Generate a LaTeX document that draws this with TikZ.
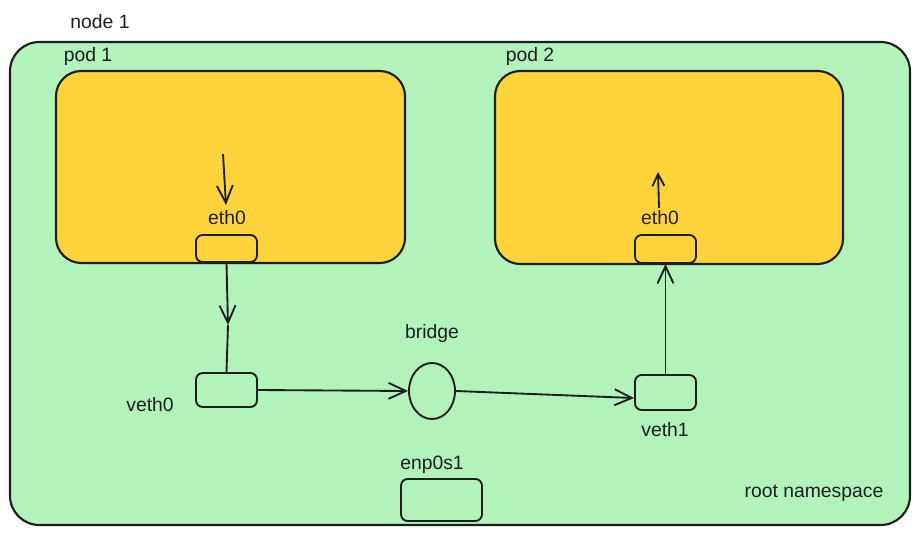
\documentclass[tikz,border=0pt]{standalone}
\usepackage{fontspec}
\setmainfont{Liberation Sans}
\usetikzlibrary{arrows.meta,shapes.geometric}
\definecolor{nsgreen}{HTML}{B2F2BB}
\definecolor{podyellow}{HTML}{FFD43B}
\definecolor{ink}{HTML}{1E1E1E}
\begin{document}
\begin{tikzpicture}[x=0.75pt,y=-0.75pt,line join=round,
  every node/.style={font=\fontsize{14.5}{16}\selectfont,text=ink},
  box/.style={draw=ink,line width=1.6pt,rounded corners=#1,inner sep=0pt},
  port/.style={draw=ink,line width=1.4pt,rounded corners=5pt,fill=podyellow,minimum width=45.75pt,inner sep=0pt},
  arr/.style={draw=ink,line width=1.4pt,-{Straight Barb[length=13pt,width=12pt]}},
  wire/.style={draw=ink,line width=1.4pt}]
  \useasboundingbox (0,0) rectangle (921,535);
  \node[box=22pt,fill=nsgreen,minimum width=675pt,minimum height=362.25pt] (root) at (460,283.5) {};
  \node[box=19pt,fill=podyellow,minimum width=261.75pt,minimum height=144pt] (pod1) at (230.5,167) {};
  \node[box=19pt,fill=podyellow,minimum width=261pt,minimum height=144.75pt] (pod2) at (669,167.5) {};
  \node (nodelbl) at (100,22) {node 1};
  \node (pod1lbl) at (88,57) {pod 1};
  \node (pod2lbl) at (530,57) {pod 2};
  \node (rootlbl) at (814,493) {root namespace};
  % interfaces
  \node[port,minimum height=20.25pt] (eth0a) at (226.5,248.5) {};
  \node[port,minimum height=21pt] (eth0b) at (665.5,249) {};
  \node[port,fill=nsgreen,minimum height=25.5pt] (veth0) at (226.5,390) {};
  \node[port,fill=nsgreen,minimum height=26.25pt] (veth1) at (665.5,392.5) {};
  \node[port,fill=nsgreen,minimum width=60.75pt,minimum height=31.5pt] (enp) at (441.5,500) {};
  \node[ellipse,draw=ink,line width=1.4pt,minimum width=34.5pt,minimum height=42pt,inner sep=0pt] (bridge) at (432,391) {};
  \node (eth0albl) at (227,218) {eth0};
  \node (eth0blbl) at (660,218) {eth0};
  \node (veth0lbl) at (150,405) {veth0};
  \node (veth1lbl) at (665,430) {veth1};
  \node (bridgelbl) at (432,333) {bridge};
  \node (enplbl) at (432,465) {enp0s1};
  % traffic
  \coordinate (in1) at (223,154);
  \coordinate (in2) at (226,205);
  \coordinate (out1) at (659,208);
  \coordinate (out2) at (658,172);
  \coordinate (mid) at (228,325);
  \draw[arr] (in1) -- (in2);
  \draw[arr] (eth0a.south) -- (mid);
  \draw[wire] (mid) -- (veth0.north);
  \draw[arr] (veth0.east) -- (bridge.west);
  \draw[arr] (bridge.east) -- (veth1.190);
  \draw[arr] (veth1.north) -- (eth0b.south);
  \draw[arr,-{Straight Barb[length=9pt,width=9pt]}] (out1) -- (out2);
\end{tikzpicture}
\end{document}
